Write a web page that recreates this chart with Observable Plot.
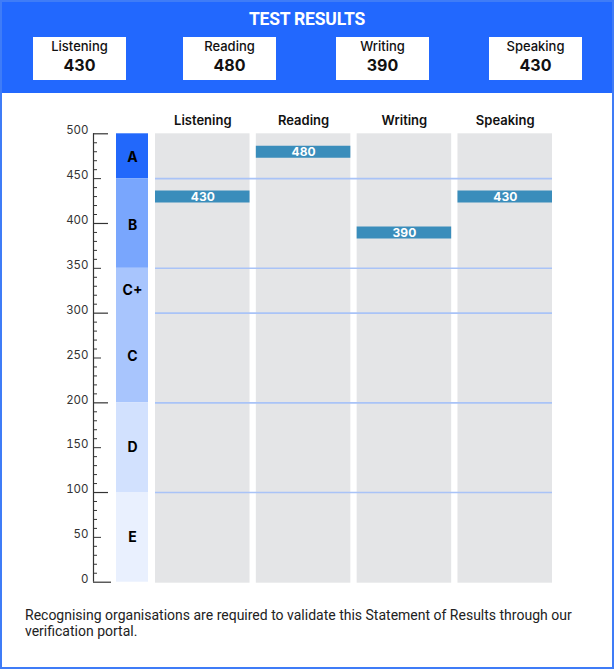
<!DOCTYPE html>
<html>
<head>
<meta charset="utf-8">
<script src="https://cdn.jsdelivr.net/npm/d3@7"></script>
<script src="https://cdn.jsdelivr.net/npm/@observablehq/plot@0.6"></script>
<style>
  html, body { margin: 0; padding: 0; background: #fff; }
  #page { position: relative; width: 614px; height: 669px; overflow: hidden; background: #fff; font-family: Inter, "Noto Sans", sans-serif; }
  #frameBorder { position: absolute; left: 0; top: 0; width: 614px; height: 669px; box-sizing: border-box; border: 2px solid #3f7cf7; pointer-events: none; }
  #header { position: absolute; left: 0; top: 0; width: 614px; height: 93px; background: #2268fe; }
  #title { position: absolute; left: 0; top: 9px; width: 614px; text-align: center; color: #fff; font-family: Roboto, sans-serif; font-weight: 700; font-size: 17.5px; letter-spacing: -0.2px; }
  .box { position: absolute; top: 37px; width: 93px; height: 43px; background: #fff; text-align: center; color: #111; }
  .box .lab { position: absolute; left: 0; right: 0; top: 1px; font-size: 13px; font-weight: 500; }
  .box .val { position: absolute; left: 0; right: 0; top: 18px; font-size: 16px; font-weight: 700; }
  #plotA, #plotB { position: absolute; top: 100px; }
  #plotA { left: 0; }
  #plotB { left: 148px; }
  #footer { position: absolute; left: 25px; top: 607px; width: 585px; font-family: Roboto, sans-serif; font-size: 14px; line-height: 16px; color: #222; }
</style>
</head>
<body>
<div id="page">
  <div id="header"><div id="title">TEST RESULTS</div></div>
  <div id="plotA"></div>
  <div id="plotB"></div>
  <div id="footer">Recognising organisations are required to validate this Statement of Results through our<br>verification portal.</div>
  <div id="frameBorder"></div>
</div>
<script>
// ---- data ----
const skills = ["Listening", "Reading", "Writing", "Speaking"];
const scores = [430, 480, 390, 430];
const boxCenters = [79.5, 229.5, 382.5, 535.5]; // header layout (px)

const gradeBands = ["A", "B", "C", "D", "E"];
const gradeLow = [450, 350, 200, 100, 0];
const gradeHigh = [500, 450, 350, 200, 100];
const gradeColors = ["#2268fb", "#79a6fd", "#a8c5fd", "#d2e1fe", "#e9f0fe"];

const gradeLabels = ["A", "B", "C+", "C", "D", "E"];
const gradeLabelValues = [474, 398, 325, 252, 150, 50];

const gridLines = [450, 350, 300, 200, 100];
const yTickLabels = [0, 50, 100, 150, 200, 250, 300, 350, 400, 450, 500];
const majorTicks = [100, 200, 300, 400, 500];
const midTicks = [50, 150, 250, 350, 450];
const minorTicks = d3.range(10, 500, 10).filter(v => v % 50 !== 0);

// ---- header boxes ----
const header = document.getElementById("header");
skills.forEach((s, i) => {
  const b = document.createElement("div");
  b.className = "box";
  b.style.left = (boxCenters[i] - 46.5) + "px";
  b.innerHTML = `<div class="lab">${s}</div><div class="val">${scores[i]}</div>`;
  header.appendChild(b);
});

// ---- shared layout ----
const H = 486, MT = 33.3, MB = 486 - 33.3 - 448.4;
const yScale = {domain: [0, 500], axis: null};

// ---- Plot A: axis + grade band ----
const frameW = 55;
const grades = gradeBands.map((g, i) => ({g, lo: gradeLow[i], hi: gradeHigh[i]}));
const glabels = gradeLabels.map((t, i) => ({t, v: gradeLabelValues[i]}));
const plotA = Plot.plot({
  width: 150, height: H,
  marginLeft: 93, marginRight: 2, marginTop: MT, marginBottom: MB,
  x: {domain: [0, 1], axis: null},
  y: yScale,
  color: {domain: gradeBands, range: gradeColors},
  style: {fontFamily: "Inter, sans-serif", background: "transparent", overflow: "visible"},
  marks: [
    Plot.rect(grades, {y1: "lo", y2: "hi", fill: "g", insetLeft: 23}),
    Plot.text(glabels, {y: "v", text: "t", dx: 11.5, fontSize: 14, fontWeight: 700, fill: "#000"}),
    Plot.ruleX([0], {y1: 0, y2: 500, stroke: "#333", strokeWidth: 1.2}),
    Plot.tickY(minorTicks, {y: d => d, stroke: "#333", insetRight: frameW - 4}),
    Plot.tickY(midTicks, {y: d => d, stroke: "#333", insetRight: frameW - 8}),
    Plot.tickY(majorTicks, {y: d => d, stroke: "#333", strokeWidth: 1.2, insetRight: frameW - 15}),
    Plot.tickY([0], {y: d => d, stroke: "#333", strokeWidth: 1.2, insetRight: frameW - 18}),
    Plot.axisY(yTickLabels, {anchor: "left", tickSize: 0, tickPadding: 5, dy: -3, fontSize: 11.5, fill: "#333"})
  ]
});
document.getElementById("plotA").appendChild(plotA);

// ---- Plot B: skill columns ----
const results = skills.map((s, i) => ({skill: s, score: scores[i]}));
const plotB = Plot.plot({
  width: 466, height: H,
  marginLeft: 7, marginRight: 62, marginTop: MT, marginBottom: MB,
  x: {domain: skills, paddingInner: 0.0625, paddingOuter: 0, round: false, label: null},
  y: yScale,
  style: {fontFamily: "Inter, sans-serif", background: "transparent", overflow: "visible"},
  marks: [
    Plot.barY(skills, {x: d => d, y: () => 500, fill: "#e4e5e7", insetBottom: -1}),
    Plot.ruleY(gridLines, {y: d => d, stroke: "#a9c3f7", strokeWidth: 1.6}),
    Plot.tickY(results, {x: "skill", y: "score", stroke: "#3a8dbb", strokeWidth: 12}),
    Plot.text(results, {x: "skill", y: "score", text: d => String(d.score), fill: "#fff", fontSize: 12, fontWeight: 700, dy: 0.5}),
    Plot.axisX({anchor: "top", tickSize: 0, tickPadding: 9, fontSize: 13, fontWeight: 600, fill: "#111", label: null})
  ]
});
document.getElementById("plotB").appendChild(plotB);
</script>
</body>
</html>
